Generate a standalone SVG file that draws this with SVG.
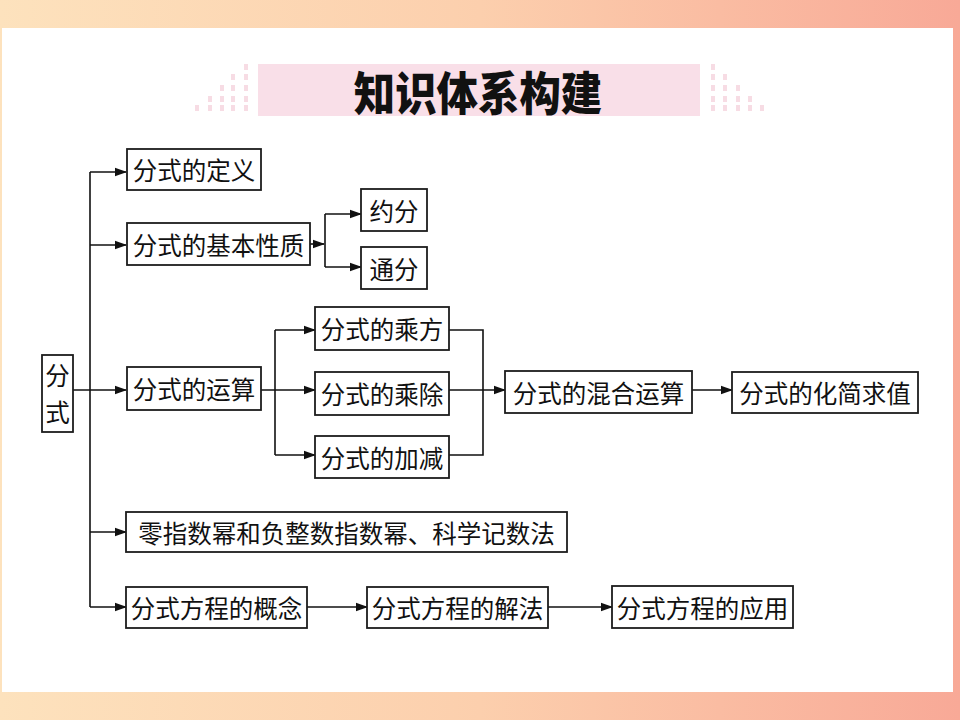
<svg xmlns="http://www.w3.org/2000/svg" width="960" height="720" viewBox="0 0 960 720">
  <defs>
    <linearGradient id="bg" x1="0" y1="0" x2="1" y2="0">
      <stop offset="0" stop-color="#fde2bd"/>
      <stop offset="0.5" stop-color="#fccfad"/>
      <stop offset="1" stop-color="#f8a997"/>
    </linearGradient>
    <marker id="ah" markerUnits="userSpaceOnUse" markerWidth="12" markerHeight="10" viewBox="0 0 12 10" refX="11" refY="5" orient="auto">
      <path d="M0,0.8 L12,5 L0,9.2 Z" fill="#111"/>
    </marker>
    <style>
      .box { fill: #fff; stroke: #1c1c1c; stroke-width: 1.8; }
      .lbl { font-family: "Noto Sans CJK SC", "Noto Sans", sans-serif; font-size: 24.5px; fill: #111; text-anchor: middle; dominant-baseline: central; }
      .ln { fill: none; stroke: #111; stroke-width: 1.6; }
      .arr { fill: none; stroke: #111; stroke-width: 1.6; marker-end: url(#ah); }
      .dot { fill: #f7dce4; }
    </style>
  </defs>

  <!-- background -->
  <rect x="0" y="0" width="960" height="720" fill="url(#bg)"/>
  <rect x="2" y="28" width="951" height="664" fill="#ffffff"/>

  <!-- title banner -->
  <g id="title">
    <rect x="258" y="64" width="442" height="52" fill="#f9dfe8"/>
    <g class="dots">
      <rect class="dot" x="195" y="105" width="4" height="6"/>
      <rect class="dot" x="208" y="96" width="4" height="6"/>
      <rect class="dot" x="208" y="105" width="4" height="6"/>
      <rect class="dot" x="220" y="85" width="4" height="6"/>
      <rect class="dot" x="220" y="96" width="4" height="6"/>
      <rect class="dot" x="220" y="105" width="4" height="6"/>
      <rect class="dot" x="231" y="74" width="4" height="6"/>
      <rect class="dot" x="231" y="85" width="4" height="6"/>
      <rect class="dot" x="231" y="96" width="4" height="6"/>
      <rect class="dot" x="231" y="105" width="4" height="6"/>
      <rect class="dot" x="244" y="64" width="4" height="6"/>
      <rect class="dot" x="244" y="74" width="4" height="6"/>
      <rect class="dot" x="244" y="85" width="4" height="6"/>
      <rect class="dot" x="244" y="96" width="4" height="6"/>
      <rect class="dot" x="244" y="105" width="4" height="6"/>

      <rect class="dot" x="711" y="64" width="4" height="6"/>
      <rect class="dot" x="711" y="74" width="4" height="6"/>
      <rect class="dot" x="711" y="85" width="4" height="6"/>
      <rect class="dot" x="711" y="96" width="4" height="6"/>
      <rect class="dot" x="711" y="105" width="4" height="6"/>
      <rect class="dot" x="723" y="74" width="4" height="6"/>
      <rect class="dot" x="723" y="85" width="4" height="6"/>
      <rect class="dot" x="723" y="96" width="4" height="6"/>
      <rect class="dot" x="723" y="105" width="4" height="6"/>
      <rect class="dot" x="736" y="85" width="4" height="6"/>
      <rect class="dot" x="736" y="96" width="4" height="6"/>
      <rect class="dot" x="736" y="105" width="4" height="6"/>
      <rect class="dot" x="748" y="96" width="4" height="6"/>
      <rect class="dot" x="748" y="105" width="4" height="6"/>
      <rect class="dot" x="760" y="105" width="4" height="6"/>
    </g>
    <text x="0" y="0" transform="translate(478,90) scale(0.9,1)" font-family="'Noto Sans CJK SC', sans-serif" font-size="46" font-weight="900" fill="#111" text-anchor="middle" dominant-baseline="central">知识体系构建</text>
  </g>

  <!-- connectors -->
  <g id="connectors">
    <path class="ln" d="M90,172 V607"/>
    <path class="arr" d="M90,172 H126"/>
    <path class="arr" d="M90,245 H126"/>
    <path class="arr" d="M73,390 H126"/>
    <path class="arr" d="M90,532 H126"/>
    <path class="arr" d="M90,607 H126"/>

    <path class="arr" d="M310,244 H324"/>
    <path class="ln" d="M325,214 V267"/>
    <path class="arr" d="M325,214 H361"/>
    <path class="arr" d="M325,267 H361"/>

    <path class="arr" d="M261,390 H315"/>
    <path class="ln" d="M275,330 V455"/>
    <path class="arr" d="M275,330 H315"/>
    <path class="arr" d="M275,455 H315"/>

    <path class="ln" d="M449,330 H483 V455 H449"/>
    <path class="arr" d="M449,390 H505"/>
    <path class="arr" d="M692,390 H732"/>

    <path class="arr" d="M307,607 H367"/>
    <path class="arr" d="M548,607 H612"/>
  </g>

  <!-- nodes -->
  <g id="n-root">
    <rect class="box" x="42" y="355" width="31" height="77"/>
    <text class="lbl" x="57.5" y="374">分</text>
    <text class="lbl" x="57.5" y="411">式</text>
  </g>
  <g id="n-def">
    <rect class="box" x="127" y="149" width="134" height="41"/>
    <text class="lbl" x="194" y="169.5">分式的定义</text>
  </g>
  <g id="n-prop">
    <rect class="box" x="127" y="223" width="183" height="42"/>
    <text class="lbl" x="218.5" y="244">分式的基本性质</text>
  </g>
  <g id="n-yuefen">
    <rect class="box" x="361" y="189" width="66" height="42"/>
    <text class="lbl" x="394" y="210">约分</text>
  </g>
  <g id="n-tongfen">
    <rect class="box" x="361" y="247" width="66" height="42"/>
    <text class="lbl" x="394" y="268">通分</text>
  </g>
  <g id="n-ops">
    <rect class="box" x="127" y="367" width="134" height="43"/>
    <text class="lbl" x="194" y="388.5">分式的运算</text>
  </g>
  <g id="n-pow">
    <rect class="box" x="315" y="307" width="134" height="43"/>
    <text class="lbl" x="382" y="328.5">分式的乘方</text>
  </g>
  <g id="n-muldiv">
    <rect class="box" x="315" y="372" width="134" height="43"/>
    <text class="lbl" x="382" y="393.5">分式的乘除</text>
  </g>
  <g id="n-addsub">
    <rect class="box" x="315" y="436" width="134" height="42"/>
    <text class="lbl" x="382" y="457">分式的加减</text>
  </g>
  <g id="n-mixed">
    <rect class="box" x="505" y="371" width="187" height="42"/>
    <text class="lbl" x="598.5" y="392">分式的混合运算</text>
  </g>
  <g id="n-simplify">
    <rect class="box" x="732" y="372" width="186" height="41"/>
    <text class="lbl" x="825" y="392.5">分式的化简求值</text>
  </g>
  <g id="n-exp">
    <rect class="box" x="126" y="512" width="441" height="40"/>
    <text class="lbl" x="346.5" y="532">零指数幂和负整数指数幂、科学记数法</text>
  </g>
  <g id="n-eqconcept">
    <rect class="box" x="126" y="587" width="181" height="41"/>
    <text class="lbl" x="216.5" y="607.5">分式方程的概念</text>
  </g>
  <g id="n-eqsolve">
    <rect class="box" x="367" y="587" width="181" height="41"/>
    <text class="lbl" x="457.5" y="607.5">分式方程的解法</text>
  </g>
  <g id="n-eqapply">
    <rect class="box" x="612" y="586" width="181" height="42"/>
    <text class="lbl" x="702.5" y="607">分式方程的应用</text>
  </g>
</svg>
